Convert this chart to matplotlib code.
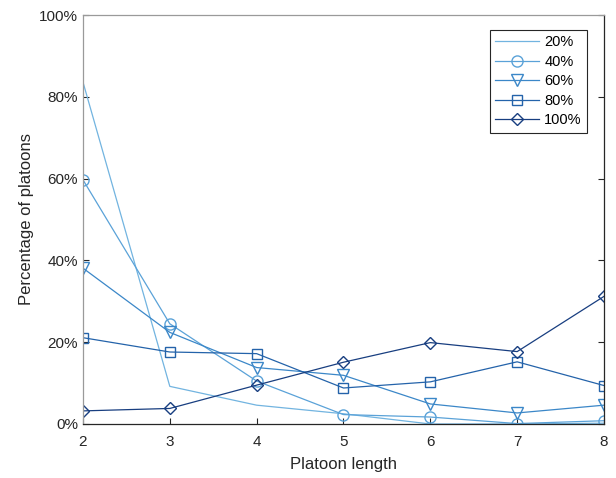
import matplotlib
matplotlib.use("Agg")
import matplotlib.pyplot as plt
from matplotlib.ticker import PercentFormatter

plt.rcParams['font.family'] = ['Liberation Sans', 'DejaVu Sans']

# platoon length
x = [2, 3, 4, 5, 6, 7, 8]
# percentage of platoons per penetration rate
p20 = [83.6, 9.2, 4.6, 2.5, 0.0, 0.0, 0.2]
p40 = [59.7, 24.5, 10.5, 2.3, 1.7, 0.1, 0.8]
p60 = [38.1, 22.4, 13.8, 11.9, 4.9, 2.7, 4.6]
p80 = [21.1, 17.6, 17.2, 8.8, 10.3, 15.2, 9.4]
p100 = [3.2, 3.8, 9.5, 15.1, 19.9, 17.7, 31.2]
labels = ['20%', '40%', '60%', '80%', '100%']

fig = plt.figure(figsize=(6.16, 4.78), dpi=100)
ax = fig.add_axes([0.1347, 0.113, 0.8458, 0.8556])

lw = 0.9
ms = 8
ax.plot(x, p20, color='#72B4E0', linewidth=lw, label=labels[0])
ax.plot(x, p40, color='#5AA2D8', linewidth=lw, marker='o', markersize=ms,
        markerfacecolor='none', label=labels[1])
ax.plot(x, p60, color='#3B87C8', linewidth=lw, marker='v', markersize=ms,
        markerfacecolor='none', label=labels[2])
ax.plot(x, p80, color='#2463AA', linewidth=lw, marker='s', markersize=6.5,
        markerfacecolor='none', label=labels[3])
ax.plot(x, p100, color='#183E80', linewidth=lw, marker='D', markersize=6.5,
        markerfacecolor='none', label=labels[4])

ax.set_xlim(2, 8)
ax.set_ylim(0, 100)
ax.set_xticks(x)
ax.set_yticks([0, 20, 40, 60, 80, 100])
ax.yaxis.set_major_formatter(PercentFormatter(decimals=0))
ax.tick_params(direction='in', length=4.5, labelsize=11, colors='#262626',
               width=0.8, right=True)
ax.tick_params(axis='x', pad=8)

ax.spines['left'].set_color('#9a9a9a')
ax.spines['top'].set_color('#9a9a9a')
ax.spines['bottom'].set_color('#262626')
ax.spines['right'].set_color('#262626')
for s in ax.spines.values():
    s.set_linewidth(0.9)

ax.set_xlabel('Platoon length', fontsize=12, color='#262626', labelpad=6)
ax.set_ylabel('Percentage of platoons', fontsize=12, color='#262626')

leg = ax.legend(loc='upper right', bbox_to_anchor=(0.967, 0.963), fontsize=10.5,
                fancybox=False, edgecolor='#262626', framealpha=1,
                handlelength=3.0, handletextpad=0.35, labelspacing=0.38,
                borderpad=0.35, borderaxespad=0)
leg.get_frame().set_linewidth(0.8)

fig.savefig('out.png', dpi=100)
